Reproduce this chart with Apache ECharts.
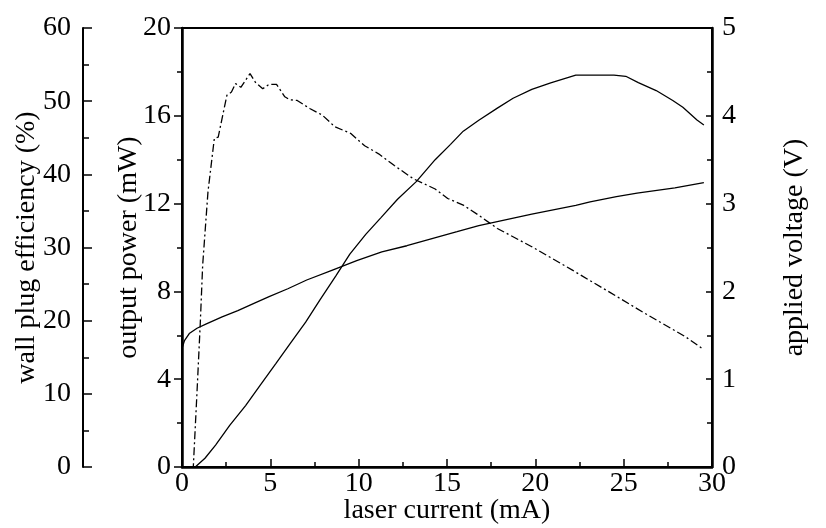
<!DOCTYPE html>
<html>
<head>
<meta charset="utf-8">
<script src="https://cdn.jsdelivr.net/npm/echarts@6/dist/echarts.min.js"></script>
<style>
  html, body { margin: 0; padding: 0; background: #fff; }
  #chart { width: 826px; height: 528px; }
</style>
</head>
<body>
<div id="chart"></div>
<script>
// output power (mW) vs laser current (mA)
const powerCurrent = [0, 0.75, 1.3, 1.9, 2.7, 3.6, 4.4, 5.3, 6.1, 7.0, 7.8, 8.7, 9.5, 10.4, 11.25, 12.2, 13.26, 14.33, 15.2, 15.92, 16.8, 17.85, 18.74, 19.8, 20.87, 22.29, 23.35, 24.45, 25.12, 25.83, 26.84, 27.78, 28.35, 29.15, 29.54];
const powerValues  = [0, 0, 0.4, 1.0, 1.9, 2.8, 3.7, 4.7, 5.6, 6.6, 7.6, 8.7, 9.7, 10.6, 11.35, 12.2, 13.0, 14.0, 14.7, 15.3, 15.8, 16.35, 16.8, 17.2, 17.5, 17.85, 17.85, 17.85, 17.8, 17.51, 17.15, 16.7, 16.39, 15.81, 15.58];

// applied voltage (V)
const voltCurrent = [0, 0.14, 0.41, 0.85, 1.38, 2.27, 3.16, 4.04, 4.93, 5.99, 7.06, 8.48, 9.89, 11.31, 12.73, 14.15, 15.57, 16.8, 19.8, 22.29, 23.1, 24.59, 25.76, 27.9, 29.54];
const voltValues  = [1.35, 1.44, 1.52, 1.58, 1.63, 1.71, 1.78, 1.86, 1.94, 2.03, 2.13, 2.24, 2.35, 2.45, 2.52, 2.6, 2.68, 2.75, 2.88, 2.98, 3.02, 3.08, 3.12, 3.18, 3.24];

// wall plug efficiency (%)
const effCurrent = [0.4, 0.64, 0.85, 1.03, 1.17, 1.47, 1.83, 2.05, 2.54, 2.8, 3.03, 3.33, 3.85, 4.15, 4.57, 4.93, 5.35, 5.82, 6.1, 6.52, 7.23, 7.94, 8.65, 9.54, 10.34, 11.13, 12.02, 13.09, 14.33, 15.04, 15.92, 16.8, 17.85, 19.8, 22.1, 24.2, 26.2, 28.5, 29.5];
const effValues  = [0, 0, 10.25, 19.4, 27.6, 37.6, 44.9, 45.1, 50.8, 51.25, 52.4, 51.9, 53.76, 52.6, 51.7, 52.3, 52.3, 50.6, 50.2, 50.1, 49.0, 48.1, 46.5, 45.6, 43.9, 42.8, 41.2, 39.4, 38.0, 36.7, 35.8, 34.4, 32.6, 30.1, 26.9, 23.9, 21.0, 17.8, 16.1];

const FONT = 'Liberation Serif';
const pair = (xs, ys) => xs.map((x, i) => [x, ys[i]]);

const labelStyle = { color: '#000', fontFamily: FONT, fontSize: 28 };
const nameStyle = { color: '#000', fontFamily: FONT, fontSize: 28 };

const myChart = echarts.init(document.getElementById('chart'));
myChart.setOption({
  animation: false,
  backgroundColor: '#fff',
  grid: {
    left: 182, right: 114, top: 28, bottom: 61,
    outerBoundsMode: 'none',
    containLabel: false,
    show: true, borderColor: '#000', borderWidth: 2
  },
  xAxis: {
    type: 'value',
    min: 0, max: 30, interval: 5,
    name: 'laser current (mA)',
    nameLocation: 'middle',
    nameGap: 30,
    nameMoveOverlap: false,
    nameTextStyle: nameStyle,
    axisLine: { lineStyle: { color: '#000', width: 2.5 } },
    axisTick: { inside: true, length: 8, lineStyle: { color: '#000', width: 1.5 } },
    minorTick: { show: true, splitNumber: 2, length: 5, lineStyle: { color: '#000', width: 1.5 } },
    axisLabel: Object.assign({ margin: 3 }, labelStyle),
    splitLine: { show: false }
  },
  yAxis: [
    {
      type: 'value', position: 'left',
      min: 0, max: 20, interval: 4,
      name: 'output power (mW)',
      nameLocation: 'middle', nameRotate: 90, nameGap: 39,
      nameMoveOverlap: false,
      nameTextStyle: nameStyle,
      axisLine: { show: true, lineStyle: { color: '#000', width: 2.5 } },
      axisTick: { show: true, inside: false, length: 8, lineStyle: { color: '#000', width: 1.5 } },
      minorTick: { show: true, splitNumber: 2, length: 5, lineStyle: { color: '#000', width: 1.5 } },
      axisLabel: Object.assign({ margin: 11 }, labelStyle),
      splitLine: { show: false }
    },
    {
      type: 'value', position: 'left', offset: 99,
      min: 0, max: 60, interval: 10,
      name: 'wall plug efficiency (%)',
      nameLocation: 'middle', nameRotate: 90, nameGap: 42,
      nameMoveOverlap: false,
      nameTextStyle: nameStyle,
      axisLine: { show: true, lineStyle: { color: '#000', width: 2 } },
      axisTick: { show: true, inside: true, length: 9, lineStyle: { color: '#000', width: 1.5 } },
      minorTick: { show: true, splitNumber: 2, length: 6, lineStyle: { color: '#000', width: 1.5 } },
      axisLabel: Object.assign({ margin: 12 }, labelStyle),
      splitLine: { show: false }
    },
    {
      type: 'value', position: 'right',
      min: 0, max: 5, interval: 1,
      name: 'applied voltage (V)',
      nameLocation: 'middle', nameRotate: 90, nameGap: 69,
      nameMoveOverlap: false,
      nameTextStyle: nameStyle,
      axisLine: { show: true, lineStyle: { color: '#000', width: 2.5 } },
      axisTick: { show: true, inside: true, length: 6, lineStyle: { color: '#000', width: 1.5 } },
      minorTick: { show: true, splitNumber: 2, length: 5, lineStyle: { color: '#000', width: 1.5 } },
      axisLabel: Object.assign({ margin: 10 }, labelStyle),
      splitLine: { show: false }
    }
  ],
  series: [
    {
      name: 'output power', type: 'line', yAxisIndex: 0,
      data: pair(powerCurrent, powerValues),
      showSymbol: false, symbol: 'none',
      lineStyle: { color: '#000', width: 1.3 }
    },
    {
      name: 'applied voltage', type: 'line', yAxisIndex: 2,
      data: pair(voltCurrent, voltValues),
      showSymbol: false, symbol: 'none',
      lineStyle: { color: '#000', width: 1.3 }
    },
    {
      name: 'wall plug efficiency', type: 'line', yAxisIndex: 1,
      data: pair(effCurrent, effValues),
      showSymbol: false, symbol: 'none',
      lineStyle: { color: '#000', width: 1.3, type: [8, 3, 2, 3] }
    }
  ]
});
</script>
</body>
</html>
